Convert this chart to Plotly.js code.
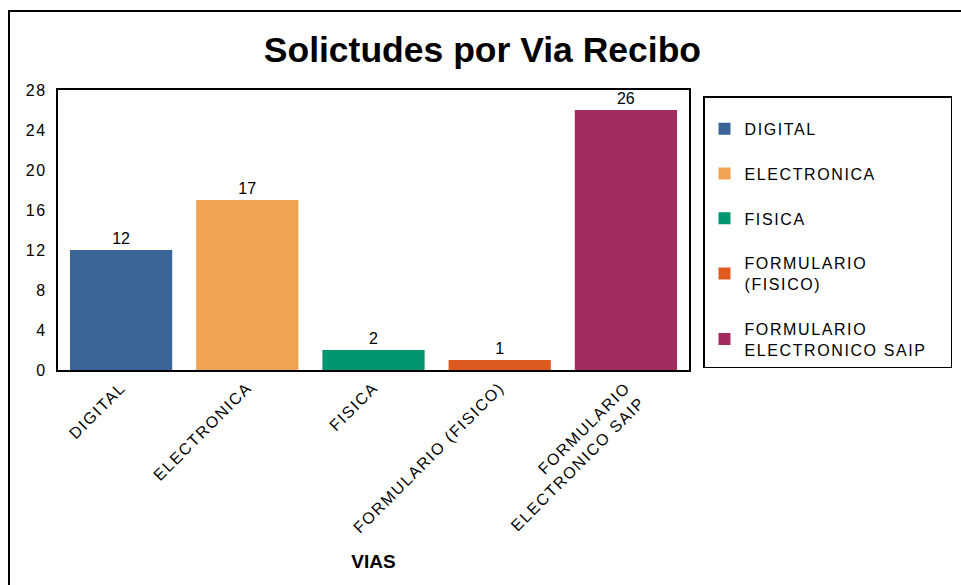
<!DOCTYPE html>
<html>
<head>
<meta charset="utf-8">
<script src="https://cdn.plot.ly/plotly-3.0.1.min.js"></script>
<style>
  html, body { margin: 0; padding: 0; background: #fff; }
  #chart { width: 961px; height: 585px; }
  .legendtext, .xtick text, .ytick text, .textpoint text { letter-spacing: 1.6px; }
</style>
</head>
<body>
<div id="chart"></div>
<script>
const categories = ["DIGITAL", "ELECTRONICA", "FISICA", "FORMULARIO (FISICO)", "FORMULARIO ELECTRONICO SAIP"];
const counts = [12, 17, 2, 1, 26];
const tickLabels = ["DIGITAL", "ELECTRONICA", "FISICA", "FORMULARIO (FISICO)", "FORMULARIO<br>ELECTRONICO SAIP"];
const legendLabels = ["DIGITAL", "ELECTRONICA", "FISICA", "FORMULARIO<br>(FISICO)", "FORMULARIO<br>ELECTRONICO SAIP&nbsp;&nbsp;&nbsp;"];
const barColors = ["#3B6597", "#F0A453", "#009672", "#DF5A1F", "#A22C60"];
const yTickVals = [0, 4, 8, 12, 16, 20, 24, 28];

const FONT = 'Arial, "Liberation Sans", sans-serif';

const traces = categories.map((c, i) => ({
  type: 'bar',
  x: [c],
  y: [counts[i]],
  name: legendLabels[i],
  legendgroup: 'g' + i,
  marker: { color: barColors[i] },
  text: [String(counts[i])],
  textposition: 'outside',
  cliponaxis: false,
  textfont: { family: FONT, size: 16, color: '#000' },
  hoverinfo: 'x+y'
}));

const layout = {
  width: 961,
  height: 585,
  margin: { l: 58, r: 272, t: 90, b: 215, autoexpand: false },
  paper_bgcolor: '#fff',
  plot_bgcolor: '#fff',
  font: { family: FONT, size: 16, color: '#000' },
  title: {
    text: '<b>Solictudes por Via Recibo</b>',
    font: { family: FONT, size: 35.5, color: '#000' },
    xref: 'container', x: 0.502, xanchor: 'center',
    yref: 'container', y: 1 - 50 / 585, yanchor: 'middle'
  },
  barmode: 'overlay',
  bargap: 0.19,
  xaxis: {
    type: 'category',
    categoryorder: 'array',
    categoryarray: categories,
    tickvals: categories,
    ticktext: tickLabels,
    tickangle: -45,
    tickfont: { family: FONT, size: 16, color: '#000' },
    showline: true, mirror: true, linecolor: '#000', linewidth: 2,
    ticks: '', showgrid: false, zeroline: false,
    automargin: false,
    title: { text: '<b>VIAS</b>', font: { family: FONT, size: 19, color: '#000' }, standoff: 19 }
  },
  yaxis: {
    range: [0, 28],
    tickvals: yTickVals,
    tickfont: { family: FONT, size: 16, color: '#000' },
    showline: true, mirror: true, linecolor: '#000', linewidth: 2,
    ticks: '', showgrid: false, zeroline: false,
    ticklabelstandoff: 6,
    automargin: false
  },
  showlegend: true,
  legend: {
    xref: 'container', x: 703 / 961, xanchor: 'left',
    yref: 'container', y: 1 - 96 / 585, yanchor: 'top',
    bordercolor: '#000', borderwidth: 1.5,
    bgcolor: '#fff',
    font: { family: FONT, size: 16, color: '#000' },
    title: { text: '&nbsp;', font: { family: FONT, size: 11 } },
    tracegroupgap: 21,
    traceorder: 'grouped'
  },
  shapes: [{
    type: 'rect', xref: 'paper', yref: 'paper',
    x0: (9 - 58) / 631, x1: (990 - 58) / 631,
    y0: (370 - 620) / 280, y1: (370 - 11) / 280,
    line: { color: '#000', width: 2 }, fillcolor: 'rgba(0,0,0,0)', layer: 'below'
  }]
};

Plotly.newPlot('chart', traces, layout, { displayModeBar: false, staticPlot: true });
</script>
</body>
</html>
